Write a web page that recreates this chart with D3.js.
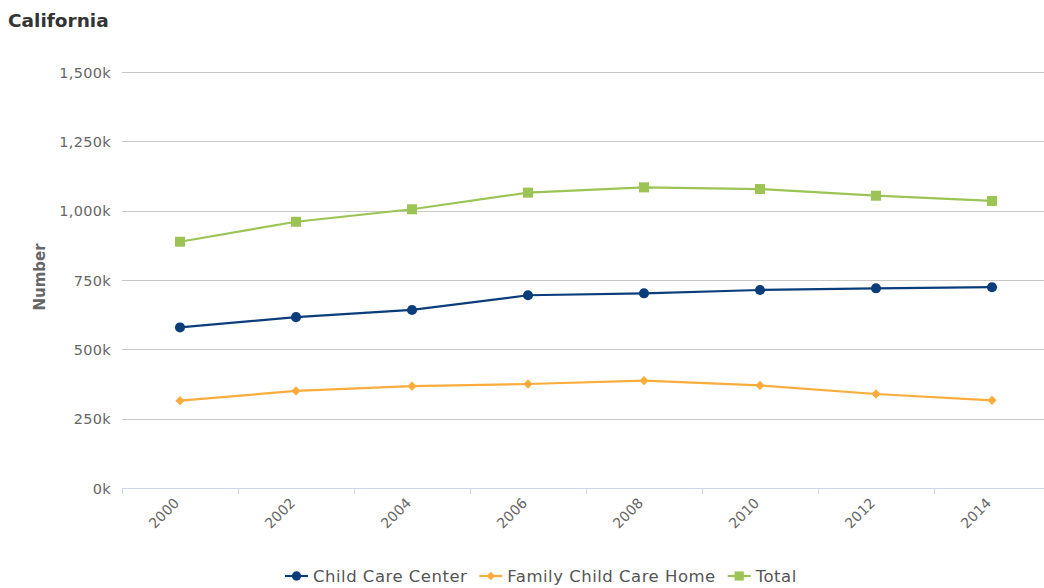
<!DOCTYPE html>
<html><head><meta charset="utf-8">
<script src="https://cdn.jsdelivr.net/npm/d3@7"></script>
<style>body{margin:0;background:#fff}svg{display:block;font-family:"DejaVu Sans",sans-serif}</style>
</head><body><svg id="c" width="1044" height="588"></svg>
<script>
const years = ["2000","2002","2004","2006","2008","2010","2012","2014"];
const childCareCenter = [579000,616000,642000,695000,702000,714000,720000,724000];
const familyChildCareHome = [315000,350000,367000,375000,387000,370000,339000,316000];
const total = [888000,960000,1005000,1065000,1084000,1078000,1054000,1035000];
const yTicks = [0,250000,500000,750000,1000000,1250000,1500000];
const seriesNames = ["Child Care Center","Family Child Care Home","Total"];
const colors = ["#0b3d7a","#fbac3c","#9bc454"];

(function(){
const svg = d3.select("#c");
const pl=122, pr=1050, pt=72, pb=488;
const x = d3.scaleBand().domain(years).range([pl,pr]);
const y = d3.scaleLinear().domain([0,1500000]).range([pb,pt]);

svg.append("text").attr("x",8).attr("y",27).attr("font-size",18.5).attr("font-weight","bold").attr("fill","#333").text("California");

// grid
svg.append("g").selectAll("line").data(yTicks.filter(d=>d>0)).join("line")
  .attr("x1",pl).attr("x2",1044).attr("y1",d=>Math.round(y(d))+0.5).attr("y2",d=>Math.round(y(d))+0.5)
  .attr("stroke","#c8c8c8").attr("stroke-width",1);

// y axis labels
const fmt = d=>d3.format(",")(d/1000)+"k";
const ya = svg.append("g").attr("transform",`translate(${pl},0)`).call(d3.axisLeft(y).tickValues(yTicks).tickFormat(fmt).tickSize(0).tickPadding(11));
ya.select(".domain").remove();
ya.selectAll("text").attr("font-size",14.5).attr("letter-spacing","0.3px").attr("fill","#666").attr("font-family","'DejaVu Sans',sans-serif").attr("dy","0.35em");

svg.append("text").attr("transform",`translate(45,277) rotate(-90)`).attr("text-anchor","middle")
  .attr("font-size",15).attr("font-weight","bold").attr("fill","#666").text("Number");

// x axis
svg.append("line").attr("x1",pl).attr("x2",1044).attr("y1",pb+0.5).attr("y2",pb+0.5).attr("stroke","#ccd6eb");
svg.append("g").selectAll("line").data(years).join("line")
  .attr("x1",d=>Math.round(x(d))+0.5).attr("x2",d=>Math.round(x(d))+0.5).attr("y1",pb).attr("y2",pb+6).attr("stroke","#ccd6eb");
svg.append("g").selectAll("text").data(years).join("text")
  .attr("transform",d=>`translate(${x(d)+x.bandwidth()/2},${pb+16}) rotate(-45)`)
  .attr("text-anchor","end").attr("font-size",14).attr("fill","#666").text(d=>d);

const data=[childCareCenter,familyChildCareHome,total];
const cx = d=>x(d)+x.bandwidth()/2;
const line = d3.line().x((v,i)=>cx(years[i])).y(v=>y(v));
const symbols=[d3.symbolCircle,d3.symbolDiamond2,d3.symbolSquare];
const sizes=[80,55,100];
data.forEach((vals,k)=>{
  svg.append("path").attr("d",line(vals)).attr("fill","none").attr("stroke",colors[k]).attr("stroke-width",2.2);
  svg.append("g").selectAll("path").data(vals).join("path")
    .attr("transform",(v,i)=>`translate(${cx(years[i])},${y(v)})`)
    .attr("d",d3.symbol().type(symbols[k]).size(sizes[k])).attr("fill",colors[k]);
});

// legend
let lx=285;
seriesNames.forEach((n,k)=>{
  const g=svg.append("g").attr("transform",`translate(${lx},576)`);
  g.append("line").attr("x1",0).attr("x2",23).attr("stroke",colors[k]).attr("stroke-width",2.2);
  g.append("path").attr("transform","translate(11.5,0)").attr("d",d3.symbol().type(symbols[k]).size(sizes[k]*0.85)).attr("fill",colors[k]);
  const t=g.append("text").attr("x",28).attr("dy","0.36em").attr("font-size",16.5).attr("letter-spacing","0.5px").attr("fill","#555").text(n);
  lx += 28 + t.node().getComputedTextLength() + 12;
});
})();
</script></body></html>
